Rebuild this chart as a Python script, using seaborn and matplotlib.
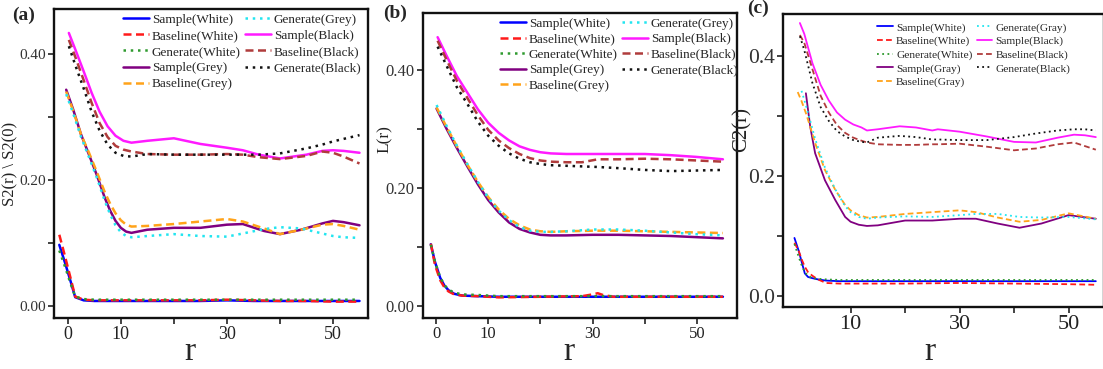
import numpy as np
import pandas as pd
import matplotlib
matplotlib.use('Agg')
import matplotlib.pyplot as plt
import seaborn as sns

# ---------------- Panel (a): S2(r) \ S2(0) ----------------
a_r_white = [-1.6, -0.5, 0.5, 1.4, 3, 5, 10, 15, 20, 25, 30, 35, 40, 45, 50, 55]
a_sample_white = [0.097, 0.068, 0.040, 0.014, 0.009, 0.008, 0.008, 0.008, 0.008, 0.008, 0.009, 0.008, 0.008, 0.008, 0.008, 0.008]
a_base_white = [0.113, 0.078, 0.045, 0.015, 0.010, 0.009, 0.009, 0.009, 0.009, 0.009, 0.010, 0.009, 0.008, 0.008, 0.007, 0.007]
a_gen_white = [0.088, 0.062, 0.036, 0.015, 0.011, 0.010, 0.010, 0.010, 0.010, 0.010, 0.010, 0.010, 0.010, 0.010, 0.010, 0.010]

a_r_grey = [-0.3, 1, 2.5, 4, 5.5, 7, 8, 9, 10, 11, 12, 15, 20, 25, 30, 33, 37, 40, 44, 48, 50, 52, 55]
a_sample_grey = [0.343, 0.312, 0.272, 0.240, 0.207, 0.171, 0.151, 0.135, 0.124, 0.118, 0.116, 0.121, 0.124, 0.124, 0.129, 0.130, 0.119, 0.114, 0.121, 0.131, 0.135, 0.133, 0.128]
a_base_grey = [0.340, 0.310, 0.272, 0.243, 0.212, 0.180, 0.162, 0.147, 0.136, 0.129, 0.126, 0.127, 0.130, 0.134, 0.138, 0.134, 0.123, 0.114, 0.121, 0.129, 0.130, 0.127, 0.121]
a_gen_grey = [0.336, 0.306, 0.268, 0.236, 0.203, 0.166, 0.145, 0.128, 0.117, 0.111, 0.109, 0.111, 0.114, 0.111, 0.110, 0.115, 0.122, 0.125, 0.123, 0.115, 0.111, 0.109, 0.108]

a_r_black = [0.2, 1.5, 3, 4.5, 6, 7.5, 9, 10.5, 12, 15, 20, 25, 30, 33, 36, 40, 45, 48, 50, 52, 55]
a_sample_black = [0.433, 0.405, 0.372, 0.338, 0.308, 0.285, 0.270, 0.262, 0.259, 0.262, 0.266, 0.257, 0.251, 0.247, 0.240, 0.234, 0.240, 0.246, 0.247, 0.246, 0.243]
a_base_black = [0.422, 0.393, 0.358, 0.322, 0.290, 0.268, 0.254, 0.248, 0.245, 0.241, 0.240, 0.240, 0.241, 0.240, 0.236, 0.233, 0.238, 0.245, 0.243, 0.237, 0.226]
a_gen_black = [0.412, 0.380, 0.345, 0.308, 0.278, 0.256, 0.243, 0.238, 0.237, 0.241, 0.240, 0.240, 0.240, 0.240, 0.240, 0.242, 0.250, 0.256, 0.261, 0.265, 0.271]

# ---------------- Panel (b): L(r) ----------------
b_r_white = [-1, -0.2, 0.8, 1.6, 2.4, 3.5, 5, 8, 12, 20, 28, 30, 31, 32, 34, 40, 50, 55]
b_sample_white = [0.105, 0.075, 0.048, 0.035, 0.027, 0.021, 0.018, 0.017, 0.016, 0.016, 0.016, 0.016, 0.016, 0.016, 0.016, 0.016, 0.016, 0.016]
b_base_white = [0.106, 0.070, 0.044, 0.032, 0.025, 0.020, 0.018, 0.017, 0.015, 0.016, 0.017, 0.020, 0.022, 0.019, 0.016, 0.016, 0.016, 0.016]
b_gen_white = [0.104, 0.075, 0.049, 0.036, 0.028, 0.023, 0.020, 0.019, 0.017, 0.017, 0.017, 0.017, 0.017, 0.017, 0.017, 0.017, 0.017, 0.017]

b_r_grey = [0.1, 2, 4, 6, 8, 10, 12, 14, 16, 18, 20, 22, 25, 30, 35, 40, 45, 50, 55]
b_sample_grey = [0.335, 0.301, 0.268, 0.237, 0.207, 0.180, 0.159, 0.142, 0.131, 0.125, 0.121, 0.120, 0.120, 0.121, 0.121, 0.120, 0.119, 0.117, 0.115]
b_base_grey = [0.337, 0.304, 0.271, 0.240, 0.211, 0.185, 0.164, 0.148, 0.137, 0.130, 0.127, 0.126, 0.127, 0.128, 0.128, 0.127, 0.126, 0.125, 0.124]
b_gen_grey = [0.341, 0.306, 0.272, 0.241, 0.211, 0.184, 0.162, 0.146, 0.134, 0.128, 0.126, 0.126, 0.127, 0.130, 0.130, 0.128, 0.125, 0.122, 0.120]

b_r_black = [0.3, 2, 4, 6, 8, 10, 12, 14, 16, 18, 20, 22, 25, 28, 31, 35, 40, 45, 50, 55]
b_sample_black = [0.456, 0.425, 0.390, 0.362, 0.334, 0.311, 0.294, 0.281, 0.271, 0.265, 0.261, 0.259, 0.258, 0.258, 0.258, 0.258, 0.258, 0.256, 0.253, 0.249]
b_base_black = [0.450, 0.418, 0.382, 0.353, 0.324, 0.299, 0.281, 0.268, 0.258, 0.251, 0.247, 0.245, 0.244, 0.244, 0.249, 0.249, 0.250, 0.249, 0.247, 0.245]
b_gen_black = [0.440, 0.408, 0.371, 0.343, 0.313, 0.289, 0.272, 0.259, 0.250, 0.244, 0.241, 0.239, 0.238, 0.237, 0.236, 0.234, 0.231, 0.229, 0.230, 0.231]

# ---------------- Panel (c): C2(r) ----------------
c_r_white = [-0.3, 0.5, 1, 1.6, 2.2, 3, 4, 5.5, 8, 12, 20, 30, 40, 50, 55]
c_sample_white = [0.097, 0.075, 0.058, 0.038, 0.032, 0.030, 0.028, 0.026, 0.025, 0.025, 0.025, 0.025, 0.025, 0.025, 0.025]
c_base_white = [0.089, 0.075, 0.062, 0.049, 0.040, 0.034, 0.028, 0.022, 0.021, 0.021, 0.021, 0.022, 0.021, 0.020, 0.019]
c_gen_white = [0.087, 0.065, 0.052, 0.040, 0.034, 0.030, 0.029, 0.028, 0.027, 0.027, 0.027, 0.027, 0.027, 0.027, 0.027]

c_r_grey = [0.3, 1, 1.8, 2.6, 3.5, 5.3, 7.2, 9, 10, 11.5, 13, 15, 20, 25, 30, 33, 37, 41, 45, 50, 55]
c_sample_grey = [np.nan, np.nan, 0.338, 0.282, 0.238, 0.193, 0.160, 0.132, 0.124, 0.119, 0.117, 0.118, 0.126, 0.126, 0.129, 0.129, 0.121, 0.114, 0.121, 0.135, 0.129]
c_base_grey = [0.340, 0.325, 0.305, 0.282, 0.255, 0.210, 0.177, 0.152, 0.143, 0.135, 0.131, 0.132, 0.137, 0.140, 0.143, 0.140, 0.131, 0.124, 0.127, 0.138, 0.129]
c_gen_grey = [np.nan, 0.342, 0.318, 0.292, 0.262, 0.214, 0.178, 0.150, 0.140, 0.132, 0.129, 0.131, 0.133, 0.132, 0.135, 0.137, 0.137, 0.132, 0.131, 0.132, 0.128]

c_r_black = [0.7, 1.5, 3, 4.5, 6, 7.5, 9, 10.5, 12, 13, 15, 19, 22, 25, 26, 30, 35, 40, 44, 48, 51, 53, 55]
c_sample_black = [0.455, 0.437, 0.388, 0.352, 0.326, 0.306, 0.294, 0.286, 0.281, 0.276, 0.278, 0.283, 0.281, 0.276, 0.278, 0.274, 0.266, 0.257, 0.256, 0.264, 0.269, 0.268, 0.265]
c_base_black = [0.435, 0.422, 0.378, 0.334, 0.306, 0.285, 0.272, 0.264, 0.259, 0.256, 0.253, 0.252, 0.252, 0.253, 0.253, 0.254, 0.249, 0.243, 0.246, 0.253, 0.256, 0.250, 0.244]
c_gen_black = [0.433, 0.410, 0.355, 0.315, 0.292, 0.275, 0.266, 0.260, 0.257, 0.256, 0.264, 0.267, 0.265, 0.261, 0.261, 0.260, 0.260, 0.265, 0.271, 0.276, 0.278, 0.278, 0.276]

labels_ab = ['Sample(White)', 'Baseline(White)', 'Generate(White)',
             'Sample(Grey)', 'Baseline(Grey)', 'Generate(Grey)',
             'Sample(Black)', 'Baseline(Black)', 'Generate(Black)']
labels_c = ['Sample(White)', 'Baseline(White)', 'Generate(White)',
            'Sample(Gray)', 'Baseline(Gray)', 'Generate(Gray)',
            'Sample(Black)', 'Baseline(Black)', 'Generate(Black)']

colors = ['#0000ff', '#ff1a1a', '#2e9a2e', '#800080', '#ffa31a', '#22e5f0',
          '#ff1aff', '#b03c3c', '#111111']
DASH = (0, (3.2, 1.8))
DOT = (0, (1.0, 1.9))
styles = ['-', DASH, DOT] * 3

sns.set_theme(style='white')
plt.rcParams['font.family'] = ['Liberation Serif', 'DejaVu Serif']

fig = plt.figure(figsize=(11.03, 3.69), dpi=100)
W, H = 1103.0, 369.0


def add_axes(l, r, t, b):
    return fig.add_axes([l / W, 1 - b / H, (r - l) / W, (b - t) / H])


def draw(ax, series, labels, lw):
    for (x, y), lab, col, st in zip(series, labels, colors, styles):
        df = pd.DataFrame({'r': x, 'v': y}).dropna()
        sns.lineplot(data=df, x='r', y='v', ax=ax, color=col, linestyle=st,
                     linewidth=lw, label=lab, sort=True, estimator=None)


def style_axes(ax, xlim, ylim, xticks, xticklabels, yticks, yticklabels, fs_x, fs_y):
    ax.set_xlim(*xlim)
    ax.set_ylim(*ylim)
    ax.set_xticks(xticks)
    ax.set_xticklabels(xticklabels)
    ax.set_yticks(yticks)
    ax.set_yticklabels(yticklabels)
    ax.tick_params(axis='x', labelsize=fs_x, direction='out', length=4, width=1.2,
                   color='#222222', labelcolor='#222222', pad=2, bottom=True)
    ax.tick_params(axis='y', labelsize=fs_y, direction='out', length=4, width=1.2,
                   color='#222222', labelcolor='#333333', pad=2, left=True)
    for s in ax.spines.values():
        s.set_color('#111111')
        s.set_linewidth(1.7)
    ax.grid(False)


# ---- (a)
axa = add_axes(54, 368, 9, 318)
series_a = [(a_r_white, a_sample_white), (a_r_white, a_base_white), (a_r_white, a_gen_white),
            (a_r_grey, a_sample_grey), (a_r_grey, a_base_grey), (a_r_grey, a_gen_grey),
            (a_r_black, a_sample_black), (a_r_black, a_base_black), (a_r_black, a_gen_black)]
draw(axa, series_a, labels_ab, 1.8)
style_axes(axa, (-2.6, 56.6), (-0.019, 0.471), [0, 10, 20, 30, 40, 50],
           ['0', '10', '', '30', '', '50'], [0, 0.1, 0.2, 0.3, 0.4],
           ['0.00', '', '0.20', '', '0.40'], 13, 11)
axa.set_xlabel('r', fontsize=24)
axa.xaxis.set_label_coords(0.433, -0.06)
axa.set_ylabel('S2(r) \\ S2(0)', fontsize=12, color='#222222')
axa.yaxis.set_label_coords(-0.112, 0.5)
axa.legend(ncol=2, loc='upper left', bbox_to_anchor=(0.215, 0.99), frameon=False,
           fontsize=9.5, handlelength=2.0, handletextpad=0.2, columnspacing=0.3,
           labelspacing=0.3, borderpad=0.1, borderaxespad=0.0)

# ---- (b)
axb = add_axes(423, 737, 13, 318)
series_b = [(b_r_white, b_sample_white), (b_r_white, b_base_white), (b_r_white, b_gen_white),
            (b_r_grey, b_sample_grey), (b_r_grey, b_base_grey), (b_r_grey, b_gen_grey),
            (b_r_black, b_sample_black), (b_r_black, b_base_black), (b_r_black, b_gen_black)]
draw(axb, series_b, labels_ab, 1.8)
style_axes(axb, (-2.5, 57.7), (-0.02, 0.497), [0, 10, 20, 30, 40, 50],
           ['0', '10', '', '30', '', '50'], [0, 0.1, 0.2, 0.3, 0.4],
           ['0.00', '', '0.20', '', '0.40'], 12, 12)
axb.set_xlabel('r', fontsize=24)
axb.xaxis.set_label_coords(0.465, -0.06)
axb.set_ylabel('L(r)', fontsize=12.5, color='#222222')
axb.yaxis.set_label_coords(-0.095, 0.587)
axb.legend(ncol=2, loc='upper left', bbox_to_anchor=(0.24, 0.99), frameon=False,
           fontsize=9.5, handlelength=2.0, handletextpad=0.2, columnspacing=0.3,
           labelspacing=0.25, borderpad=0.1, borderaxespad=0.0)

# ---- (c)
axc = add_axes(783, 1104, 14, 307)
series_c = [(c_r_white, c_sample_white), (c_r_white, c_base_white), (c_r_white, c_gen_white),
            (c_r_grey, c_sample_grey), (c_r_grey, c_base_grey), (c_r_grey, c_gen_grey),
            (c_r_black, c_sample_black), (c_r_black, c_base_black), (c_r_black, c_gen_black)]
draw(axc, series_c, labels_c, 1.3)
style_axes(axc, (-2.4, 56.5), (-0.018, 0.47), [10, 20, 30, 40, 50],
           ['10', '', '30', '', '50'], [0, 0.1, 0.2, 0.3, 0.4],
           ['0.0', '', '0.2', '', '0.4'], 16, 15.5)
axc.set_xlabel('r', fontsize=24)
axc.xaxis.set_label_coords(0.459, -0.1)
axc.set_ylabel('C2(r)', fontsize=15, color='#222222')
axc.yaxis.set_label_coords(-0.098, 0.607)
axc.legend(ncol=2, loc='upper left', bbox_to_anchor=(0.29, 0.975), frameon=False,
           fontsize=8.2, handlelength=1.35, handletextpad=0.3, columnspacing=0.4,
           labelspacing=0.3, borderpad=0.1, borderaxespad=0.0)

# panel letters
fig.text(24 / W, 1 - 15 / H, '(a)', fontsize=14, fontweight='bold', ha='center', va='center')
fig.text(395 / W, 1 - 13 / H, '(b)', fontsize=14, fontweight='bold', ha='center', va='center')
fig.text(758 / W, 1 - 8 / H, '(c)', fontsize=14, fontweight='bold', ha='center', va='center')

fig.savefig('out.png', dpi=100)
